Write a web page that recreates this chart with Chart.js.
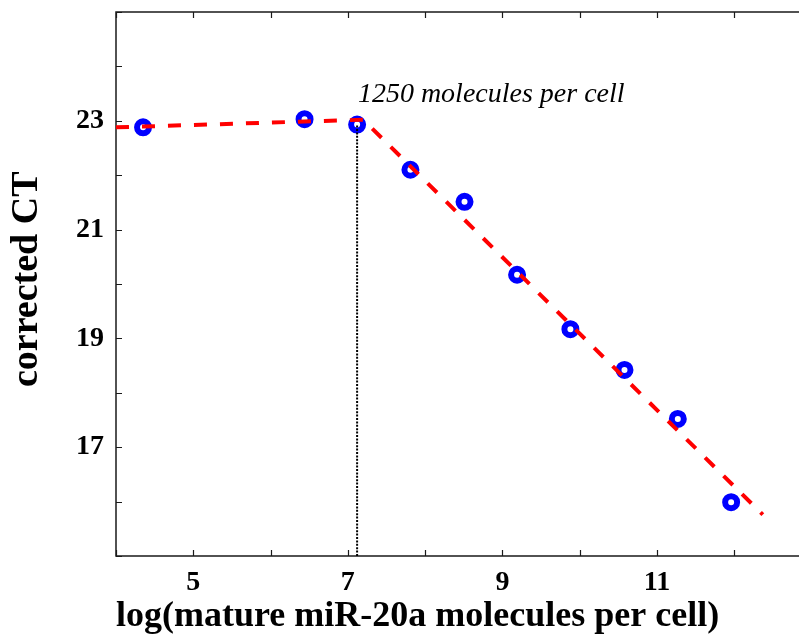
<!DOCTYPE html>
<html>
<head>
<meta charset="utf-8">
<script src="https://cdn.jsdelivr.net/npm/chart.js@4.4.1/dist/chart.umd.min.js"></script>
<style>
  html, body { margin: 0; padding: 0; background: #fff; overflow: hidden; }
  canvas { display: block; }
</style>
</head>
<body>
<canvas id="c" width="799" height="637" style="width:799px;height:637px"></canvas>
<script>
// ---- data ----
const logMolecules = [4.35, 6.44, 7.12, 7.81, 8.51, 9.19, 9.88, 10.58, 11.27, 11.96];
const correctedCT  = [22.88, 23.03, 22.93, 22.10, 21.51, 20.17, 19.17, 18.42, 17.52, 15.99];
const fitX = [4, 7.2, 12.37];
const fitY = [22.88, 23.02, 15.76];
const thresholdX = [7.12, 7.12];
const thresholdY = [15, 22.93];
const annotationText = '1250 molecules per cell';
const annotationPos = [7.13, 23.345];
const xTitle = 'log(mature miR-20a molecules per cell)';
const yTitle = ' corrected CT';
const xRange = [4, 13];
const yRange = [15, 25];

// the original axes box runs past the right edge of the picture (cropped)
const plotRightPx = 811.5;

const pts = (xs, ys) => xs.map((x, i) => ({ x, y: ys[i] }));

const extendRight = {
  id: 'extendRight',
  afterLayout(chart) {
    const x = chart.scales.x;
    x.right = plotRightPx;
    x.width = x.right - x.left;
    x.configure();
    chart.chartArea.right = plotRightPx;
    chart.chartArea.width = plotRightPx - chart.chartArea.left;
  }
};

const frameTicks = {
  id: 'frameTicks',
  beforeDatasetsDraw(chart) {
    const { ctx, chartArea: { left, right, top, bottom }, scales: { x, y } } = chart;
    ctx.save();
    ctx.strokeStyle = '#1a1a1a';
    ctx.lineWidth = 1.5;
    ctx.beginPath();
    ctx.moveTo(left, top); ctx.lineTo(right, top); ctx.lineTo(right, bottom);
    ctx.lineTo(left, bottom); ctx.closePath();
    ctx.stroke();
    ctx.lineWidth = 1.2;
    ctx.beginPath();
    x.ticks.forEach(t => {
      const px = Math.round(x.getPixelForValue(t.value)) + 0.5;
      ctx.moveTo(px, bottom); ctx.lineTo(px, bottom - 6);
      ctx.moveTo(px, top); ctx.lineTo(px, top + 6);
    });
    y.ticks.forEach(t => {
      const py = Math.round(y.getPixelForValue(t.value)) + 0.5;
      ctx.moveTo(left, py); ctx.lineTo(left + 6, py);
      ctx.moveTo(right, py); ctx.lineTo(right - 6, py);
    });
    ctx.stroke();
    ctx.restore();
  },
  afterDraw(chart) {
    const { ctx, scales: { x, y } } = chart;
    ctx.save();
    ctx.font = 'italic 28px "Liberation Serif", "DejaVu Serif", serif';
    ctx.fillStyle = '#000';
    ctx.textAlign = 'left';
    ctx.textBaseline = 'alphabetic';
    ctx.fillText(annotationText, x.getPixelForValue(annotationPos[0]), y.getPixelForValue(annotationPos[1]));
    ctx.restore();
  }
};

const oddLabel = (axisRange) => function (value) {
  if (value <= axisRange[0] || value >= axisRange[1]) return '';
  return Math.abs(value % 2) === 1 ? String(value) : '';
};

function noPad(scale) {
  scale.paddingTop = 0; scale.paddingBottom = 0;
  scale.paddingLeft = 0; scale.paddingRight = 0;
}

new Chart(document.getElementById('c'), {
  type: 'scatter',
  data: {
    datasets: [
      {
        label: 'fit',
        type: 'line',
        data: pts(fitX, fitY),
        borderColor: 'rgb(255,0,0)',
        borderWidth: 4,
        borderDash: [13, 13],
        pointRadius: 0,
        fill: false,
        tension: 0,
        order: 0
      },
      {
        label: 'threshold',
        type: 'line',
        data: pts(thresholdX, thresholdY),
        borderColor: '#000',
        borderWidth: 2,
        borderDash: [2, 1.4],
        pointRadius: 0,
        fill: false,
        order: 1
      },
      {
        label: 'data',
        data: pts(logMolecules, correctedCT),
        pointRadius: 6,
        pointBorderWidth: 6,
        pointBorderColor: 'rgb(0,0,255)',
        pointBackgroundColor: '#fff',
        showLine: false,
        order: 2
      }
    ]
  },
  options: {
    responsive: false,
    maintainAspectRatio: false,
    animation: false,
    devicePixelRatio: 1,
    layout: { padding: { left: 0, right: 0, top: 10.5, bottom: 0 } },
    plugins: { legend: { display: false }, tooltip: { enabled: false } },
    scales: {
      x: {
        type: 'linear',
        min: xRange[0], max: xRange[1],
        grid: { display: false, drawTicks: false },
        border: { display: false },
        ticks: {
          stepSize: 1,
          autoSkip: false,
          maxRotation: 0,
          padding: 10,
          color: '#000',
          font: { family: '"Liberation Serif", "DejaVu Serif", serif', size: 28, weight: 'bold' },
          callback: oddLabel(xRange)
        },
        title: {
          display: true,
          text: xTitle,
          align: 'start',
          color: '#000',
          padding: { top: 0, bottom: -1 },
          font: { family: '"Liberation Serif", "DejaVu Serif", serif', size: 36, weight: 'bold' }
        },
        afterFit(scale) { scale.height = 81; noPad(scale); }
      },
      y: {
        type: 'linear',
        min: yRange[0], max: yRange[1],
        grid: { display: false, drawTicks: false },
        border: { display: false },
        ticks: {
          stepSize: 1,
          autoSkip: false,
          padding: 12,
          color: '#000',
          font: { family: '"Liberation Serif", "DejaVu Serif", serif', size: 28, weight: 'bold' },
          callback: oddLabel(yRange)
        },
        title: {
          display: true,
          text: yTitle,
          color: '#000',
          padding: { top: 4, bottom: 0 },
          font: { family: '"Liberation Serif", "DejaVu Serif", serif', size: 38, weight: 'bold' }
        },
        afterFit(scale) { scale.width = 116; noPad(scale); }
      }
    }
  },
  plugins: [extendRight, frameTicks]
});
</script>
</body>
</html>
